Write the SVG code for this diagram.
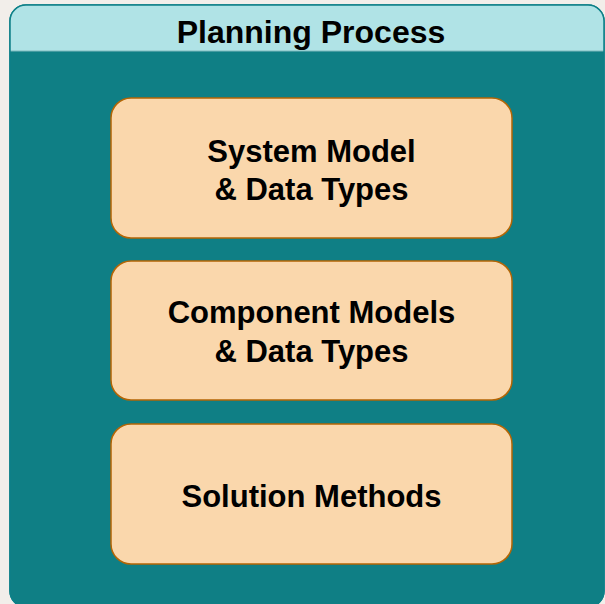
<svg xmlns="http://www.w3.org/2000/svg" width="605" height="604" viewBox="0 0 605 604">
<style>
.t{font-family:"Liberation Sans",Arial,sans-serif;font-weight:bold;font-size:31px;fill:#000;text-anchor:middle}
.h{font-size:32px}
.box{fill:#fad7ac;stroke:#b46504;stroke-width:1.5}
</style>
<rect width="605" height="604" fill="#f2eeea"/>
<g id="container">
<clipPath id="cp"><rect x="10" y="5" width="594" height="602" rx="16"/></clipPath>
<rect x="10" y="5" width="594" height="602" rx="16" fill="#0f7f85" stroke="#0e8088" stroke-width="1.5"/>
<rect x="10" y="5" width="594" height="46" fill="#b0e3e6" clip-path="url(#cp)"/>
<line x1="10" y1="51" x2="604" y2="51" stroke="#7fb8bd" stroke-width="1"/>
<rect x="10" y="5" width="594" height="602" rx="16" fill="none" stroke="#0e8088" stroke-width="1.5"/>
<text class="t h" x="311" y="43">Planning Process</text>
</g>
<g id="node1">
<rect class="box" x="111" y="98" width="401" height="140" rx="20"/>
<text class="t" x="311.5" y="162">System Model</text>
<text class="t" x="311.5" y="200">&amp; Data Types</text>
</g>
<g id="node2">
<rect class="box" x="111" y="261" width="401" height="139" rx="20"/>
<text class="t" x="311.5" y="323">Component Models</text>
<text class="t" x="311.5" y="362">&amp; Data Types</text>
</g>
<g id="node3">
<rect class="box" x="111" y="424" width="401" height="140" rx="20"/>
<text class="t" x="311.5" y="507">Solution Methods</text>
</g>
<g id="connectors"/>
</svg>
